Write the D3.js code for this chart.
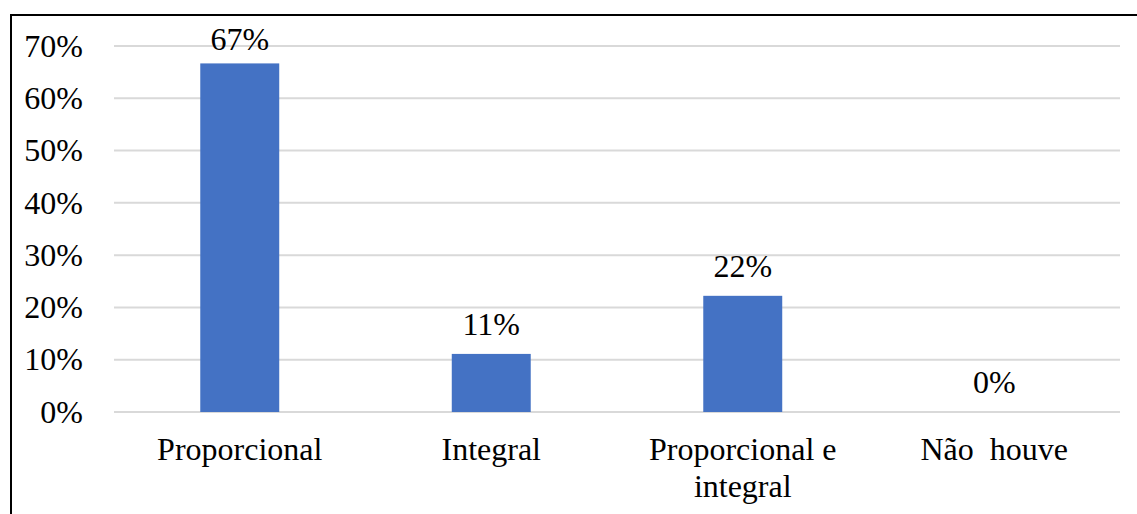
<!DOCTYPE html>
<html>
<head>
<meta charset="utf-8">
<script src="https://cdn.jsdelivr.net/npm/d3@7"></script>
<style>
  html, body { margin: 0; padding: 0; background: #fff; }
  svg { display: block; font-family: "Liberation Serif", "Times New Roman", serif; }
</style>
</head>
<body>
<div id="chart"></div>
<script>
// categories (label lines) and share of responses
const categories = [["Proporcional"], ["Integral"], ["Proporcional e", "integral"], ["Não  houve"]];
const values = [0.6667, 0.1111, 0.2222, 0];
const valueLabels = ["67%", "11%", "22%", "0%"];
const yTicks = [0, 0.1, 0.2, 0.3, 0.4, 0.5, 0.6, 0.7];

const W = 1137, H = 514;
const margin = { top: 46, right: 17, bottom: 102, left: 114 };
const width = W - margin.left - margin.right;
const height = H - margin.top - margin.bottom;
const fontSize = 32;

const svg = d3.select("#chart").append("svg")
  .attr("width", W)
  .attr("height", H);

// outer frame (right/bottom edges run off the picture)
svg.append("rect")
  .attr("x", 11).attr("y", 15)
  .attr("width", W + 10).attr("height", H + 10)
  .attr("fill", "none")
  .attr("stroke", "#000")
  .attr("stroke-width", 2);

const g = svg.append("g").attr("transform", `translate(${margin.left},${margin.top})`);

const x = d3.scaleBand()
  .domain(d3.range(categories.length))
  .range([0, width])
  .paddingInner(0.686)
  .paddingOuter(0.343);
const y = d3.scaleLinear().domain([0, 0.7]).range([height, 0]);

// gridlines
g.append("g")
  .selectAll("line")
  .data(yTicks)
  .join("line")
  .attr("x1", 0).attr("x2", width)
  .attr("y1", d => y(d)).attr("y2", d => y(d))
  .attr("stroke", "#d9d9d9")
  .attr("stroke-width", 2);

// y axis labels
const yAxis = g.append("g")
  .attr("transform", "translate(-31,0)")
  .call(d3.axisLeft(y).tickValues(yTicks).tickFormat(d3.format(".0%")).tickSize(0).tickPadding(0));
yAxis.attr("font-family", null).attr("font-size", null);
yAxis.select(".domain").remove();
yAxis.selectAll("text")
  .attr("font-size", fontSize)
  .attr("fill", "#000");

// bars
g.selectAll(".bar")
  .data(values)
  .join("rect")
  .attr("class", "bar")
  .attr("x", (d, i) => x(i))
  .attr("y", d => y(d))
  .attr("width", x.bandwidth())
  .attr("height", d => height - y(d))
  .attr("fill", "#4472c4");

// value labels
g.selectAll(".val")
  .data(values)
  .join("text")
  .attr("class", "val")
  .attr("x", (d, i) => x(i) + x.bandwidth() / 2)
  .attr("y", d => Math.max(y(d) - 19, 4))
  .attr("text-anchor", "middle")
  .attr("font-size", fontSize)
  .attr("fill", "#000")
  .text((d, i) => valueLabels[i]);

// category labels
const cat = g.selectAll(".cat")
  .data(categories)
  .join("text")
  .attr("class", "cat")
  .attr("x", (d, i) => x(i) + x.bandwidth() / 2)
  .attr("y", height + 48)
  .attr("text-anchor", "middle")
  .attr("font-size", fontSize)
  .attr("fill", "#000")
  .style("white-space", "pre");
cat.selectAll("tspan")
  .data((d, i) => d.map(t => ({ t, i })))
  .join("tspan")
  .attr("x", d => x(d.i) + x.bandwidth() / 2)
  .attr("dy", (d, j) => j === 0 ? 0 : 37)
  .text(d => d.t);
</script>
</body>
</html>
